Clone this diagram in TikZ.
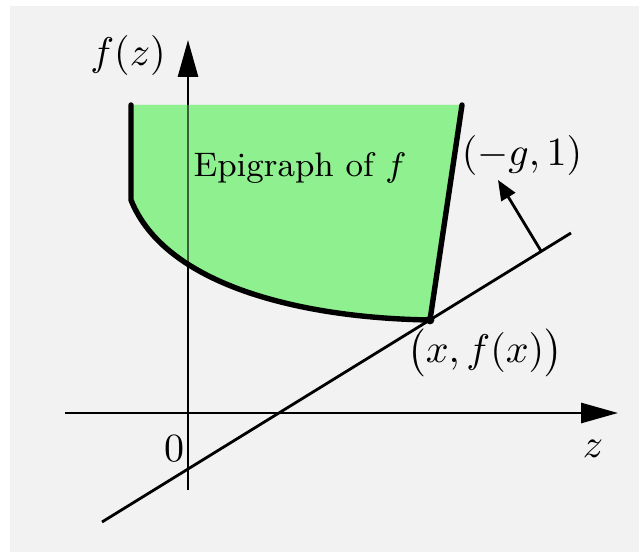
\documentclass[tikz,border=0pt]{standalone}
\usepackage{fix-cm}
\usetikzlibrary{arrows.meta}
\definecolor{bggray}{RGB}{242,242,242}
\definecolor{epigreen}{RGB}{142,240,142}
\begin{document}
\begin{tikzpicture}[x=0.25pt,y=-0.25pt,
  axisline/.style={line width=0.7pt,-{Triangle[length=9.25pt,width=5pt]}},
  normalline/.style={line width=0.7pt,-{Triangle[length=5pt,width=4pt]}},
  thinline/.style={line width=0.7pt},
  boundline/.style={line width=1.35pt,line join=round,line cap=round},
  lbl/.style={anchor=base,inner sep=0pt,outer sep=0pt}]
\useasboundingbox (0,0) rectangle (639,552);
\fill[bggray] (10,6) rectangle (639,552);
% key points
\coordinate (TL) at (131,105);
\coordinate (LC) at (131,200);
\coordinate (X) at (430,320);
\coordinate (TR) at (462,105);
% epigraph fill
\fill[epigreen] (TL) -- (LC) .. controls (165,285) and (300,318) .. (X) -- (TR) -- cycle;
% axes
\coordinate (yb) at (188,490);
\coordinate (yt) at (188,40);
\coordinate (xl) at (65,413);
\coordinate (xr) at (618,413);
\draw[axisline] (yb) -- (yt);
\draw[axisline] (xl) -- (xr);
% tint over axis inside the epigraph
\fill[epigreen,opacity=0.4] (TL) -- (LC) .. controls (165,285) and (300,318) .. (X) -- (TR) -- cycle;
% tangent line
\coordinate (ta) at (102,522);
\coordinate (tb) at (571,233);
\draw[thinline] (ta) -- (tb);
% normal vector
\coordinate (nb) at (541,251);
\coordinate (nt) at (498,180);
\draw[normalline] (nb) -- (nt);
% boundary
\draw[boundline] (TL) -- (LC) .. controls (165,285) and (300,318) .. (X) -- (TR);
\fill (X) circle[radius=1.1pt];
% labels
\node[lbl] (fz) at (128,66) {$f(z)$};
\node[lbl] (epi) at (300,177) {\fontsize{8.5}{10}\selectfont Epigraph of $f$};
\node[lbl] (g1) at (522,166) {$(-g,1)$};
\node[lbl] (xfx) at (485,363) {$\bigl(x,f(x)\bigr)$};
\node[lbl] (zero) at (174,462) {$0$};
\node[lbl] (zl) at (593,457) {$z$};
\end{tikzpicture}
\end{document}
